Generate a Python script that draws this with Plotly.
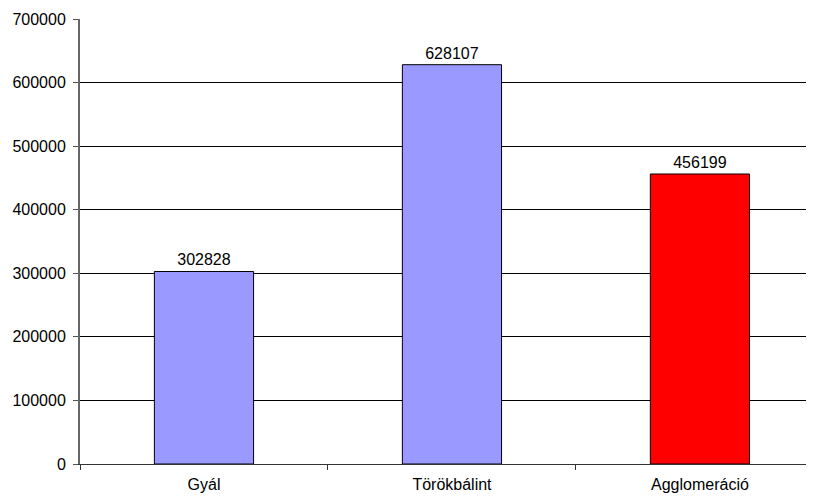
import plotly.graph_objects as go

categories = ["Gyál", "Törökbálint", "Agglomeráció"]
values = [302828, 628107, 456199]
bar_colors = ["#9999FF", "#9999FF", "#FF0000"]
y_ticks = [0, 100000, 200000, 300000, 400000, 500000, 600000, 700000]

fig = go.Figure(go.Bar(
    x=categories, y=values,
    marker=dict(color=bar_colors, line=dict(color="#000000", width=1)),
    width=0.4,
    text=[str(v) for v in values], textposition="outside",
    textfont=dict(family="Liberation Sans, Arial", size=16, color="black"),
    cliponaxis=False,
))

fig.update_layout(
    width=806, height=491,
    margin=dict(l=72, r=0, t=11, b=35),
    paper_bgcolor="white", plot_bgcolor="white",
    showlegend=False,
    font=dict(family="Liberation Sans, Arial", size=16, color="black"),
    xaxis=dict(
        type="category", range=[-0.5, 2.46],
        tickson="boundaries", ticks="outside", ticklen=5, tickcolor="#333333",
        showline=True, linecolor="#333333", linewidth=1,
        showgrid=False, fixedrange=True, ticklabelstandoff=6,
    ),
    yaxis=dict(
        range=[0, 700000], tickvals=y_ticks, ticktext=[str(v) for v in y_ticks],
        ticks="outside", ticklen=5, tickcolor="#555555",
        showline=True, linecolor="#666666", linewidth=2,
        showgrid=True, gridcolor="#000000", gridwidth=1,
        zeroline=False, fixedrange=True, ticklabelstandoff=4,
    ),
)

fig.write_html("out.html")
